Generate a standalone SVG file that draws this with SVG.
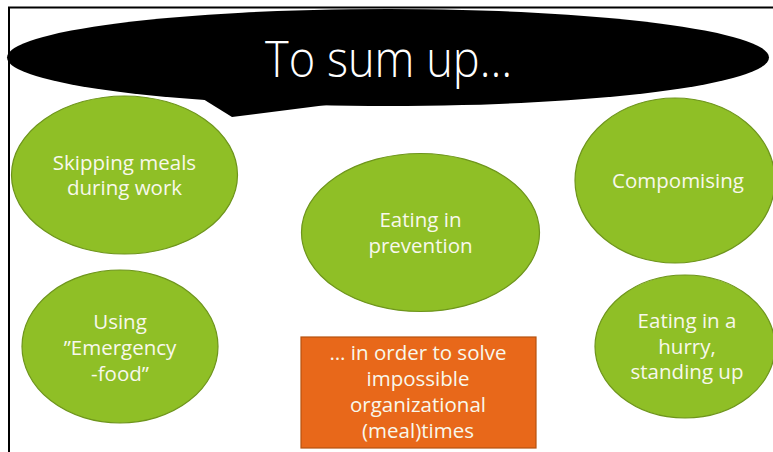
<svg xmlns="http://www.w3.org/2000/svg" width="773" height="452" viewBox="0 0 773 452">
<style>
.g{fill:#8fbf26;stroke:#6e951c;stroke-width:1.2}
.o{fill:#e8681a;stroke:#b6530f;stroke-width:1.2}
.t{font-family:"Open Sans","Noto Sans","DejaVu Sans",sans-serif;font-size:20.5px;fill:#f8f8ec;text-anchor:middle}
.h{font-family:"Open Sans","Noto Sans","DejaVu Sans",sans-serif;font-size:50px;font-weight:300;fill:#ffffff;text-anchor:middle}
</style>
<rect width="773" height="452" fill="#ffffff"/>
<g id="frame"><path d="M9,452 V7.5 H773" fill="none" stroke="#000" stroke-width="2"/></g>
<g id="title">
<ellipse cx="388" cy="57.5" rx="381" ry="48.5" fill="#000"/>
<path d="M200,95 L203,99 L232,117 L350,102 L330,80 Z" fill="#000"/>
<text class="h" x="388.5" y="77" textLength="247" lengthAdjust="spacingAndGlyphs">To sum up…</text>
</g>
<g id="connectors"></g>
<g id="skipping">
<ellipse class="g" cx="124.5" cy="175" rx="113" ry="79"/>
<text class="t" x="124.5" y="170">Skipping meals</text>
<text class="t" x="124.5" y="195">during work</text>
</g>
<g id="compromising">
<ellipse class="g" cx="675" cy="180.5" rx="100" ry="82.5"/>
<text class="t" x="678" y="188">Compomising</text>
</g>
<g id="prevention">
<ellipse class="g" cx="420.5" cy="232.5" rx="119" ry="79"/>
<text class="t" x="420.5" y="227">Eating in</text>
<text class="t" x="420.5" y="253">prevention</text>
</g>
<g id="emergency">
<ellipse class="g" cx="120" cy="346.5" rx="98" ry="76.5"/>
<text class="t" x="120" y="329">Using</text>
<text class="t" x="120" y="355">”Emergency</text>
<text class="t" x="120" y="381">-food”</text>
</g>
<g id="hurry">
<ellipse class="g" cx="685" cy="346.5" rx="90" ry="71.5"/>
<text class="t" x="687" y="328">Eating in a</text>
<text class="t" x="687" y="354">hurry,</text>
<text class="t" x="687" y="379">standing up</text>
</g>
<g id="solve">
<rect class="o" x="301" y="337" width="235" height="111"/>
<text class="t" x="418" y="360">… in order to solve</text>
<text class="t" x="418" y="386">impossible</text>
<text class="t" x="418" y="412">organizational</text>
<text class="t" x="418" y="438">(meal)times</text>
</g>
</svg>
